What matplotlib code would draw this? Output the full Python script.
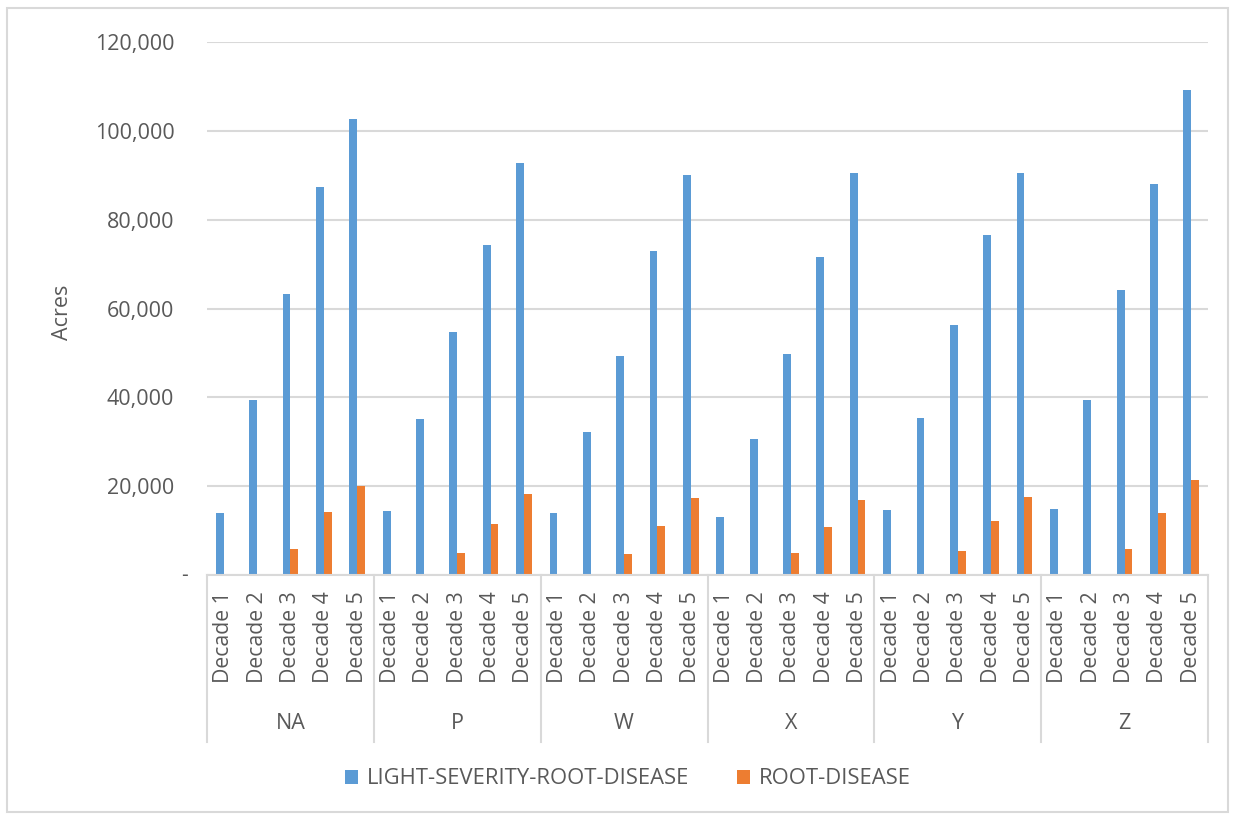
import matplotlib
matplotlib.use("Agg")
import matplotlib.pyplot as plt
import matplotlib.transforms as mtransforms
from matplotlib.patches import Rectangle
import numpy as np

# categories
groups = ["NA", "P", "W", "X", "Y", "Z"]
decades = ["Decade 1", "Decade 2", "Decade 3", "Decade 4", "Decade 5"]

# acres per decade, group after group
light_severity = [14000, 39500, 63300, 87400, 102600,
                  14500, 35200, 54700, 74200, 92700,
                  14000, 32100, 49400, 73000, 90000,
                  13000, 30600, 49700, 71700, 90600,
                  14600, 35300, 56300, 76600, 90600,
                  14800, 39500, 64200, 88100, 109100]
root_disease = [0, 0, 5900, 14200, 20100,
                0, 0, 5000, 11400, 18200,
                0, 0, 4700, 11100, 17300,
                0, 0, 5000, 10800, 16800,
                0, 0, 5300, 12100, 17500,
                0, 0, 5800, 13900, 21500]

series_names = ["LIGHT-SEVERITY-ROOT-DISEASE", "ROOT-DISEASE"]
y_ticks = [0, 20000, 40000, 60000, 80000, 100000, 120000]

BLUE = "#5b9bd5"
ORANGE = "#ed7d31"
GRID = "#d9d9d9"
TEXT = "#595959"

plt.rcParams["font.family"] = ["Open Sans", "DejaVu Sans"]
plt.rcParams["font.size"] = 15
plt.rcParams["text.color"] = TEXT

W, H = 1233, 816
fig = plt.figure(figsize=(W / 100, H / 100), dpi=100)
ax = fig.add_axes([207 / W, 1 - 575 / H, (1208 - 207) / W, (575 - 42) / H])

x = np.arange(len(light_severity))
bw = 0.235
ax.bar(x - bw / 2, light_severity, bw, color=BLUE, label=series_names[0])
ax.bar(x + bw / 2, root_disease, bw, color=ORANGE, label=series_names[1])

ax.set_xlim(-0.5, len(x) - 0.5)
ax.set_ylim(0, 120000)

# y axis in accounting style: zero drawn as a dash
ax.set_yticks(y_ticks)
ax.set_yticklabels(["" if v == 0 else f"{v:,.0f}" for v in y_ticks])
ax.annotate("-", xy=(0, 0), xycoords=("axes fraction", "data"),
            xytext=(-19, 0), textcoords="offset pixels",
            ha="right", va="center", color=TEXT, fontsize=15)
ax.tick_params(axis="y", length=0, pad=23.5, colors=TEXT, labelsize=15.5)
ax.yaxis.grid(True, color=GRID, lw=1.5)
ax.set_axisbelow(True)

ax.set_xticks(x)
ax.set_xticklabels(decades * len(groups), rotation=90)
ax.tick_params(axis="x", length=0, pad=12, colors=TEXT, labelsize=15.3)

for side in ["left", "right", "top"]:
    ax.spines[side].set_visible(False)
ax.spines["bottom"].set_color(GRID)
ax.spines["bottom"].set_linewidth(1.5)

# second level of the category axis
trans = mtransforms.blended_transform_factory(ax.transData, ax.transAxes)
for b in np.arange(-0.5, len(x), len(decades)):
    ax.plot([b, b], [0, -0.313], color=GRID, lw=1.5, transform=trans, clip_on=False)
for i, g in enumerate(groups):
    ax.text(i * len(decades) + 2, -0.2795, g, ha="center", va="center",
            transform=trans, fontsize=15.5, color=TEXT)

fig.text(62 / W, 1 - 312 / H, "Acres", rotation=90, ha="center", va="center",
         fontsize=15.5, color=TEXT)

fig.legend(loc="center", bbox_to_anchor=(628 / W, 1 - 779 / H), ncol=2,
           frameon=False, handlelength=0.6, handleheight=0.6,
           handletextpad=0.4, columnspacing=2.2, fontsize=15.8)

fig.add_artist(Rectangle((7 / W, 1 - 812 / H), (1228 - 7) / W, (812 - 8) / H,
                         transform=fig.transFigure, fill=False, ec=GRID, lw=1.5))

fig.savefig("out.png", dpi=100, facecolor="white")
